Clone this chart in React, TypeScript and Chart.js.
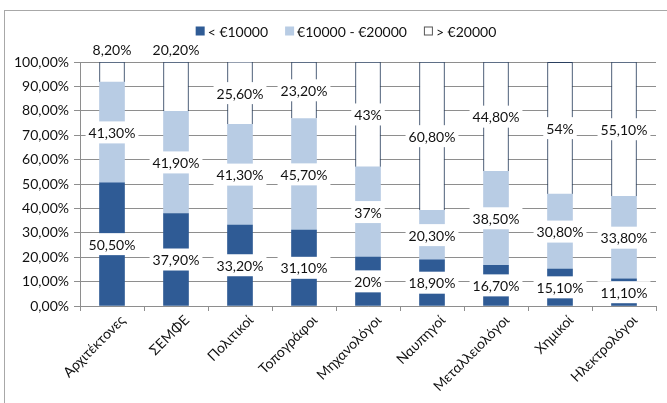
import { useEffect, useRef } from "react";
import { Chart, registerables } from "chart.js";

Chart.register(...registerables);

const categories = [
  "Αρχιτέκτονες",
  "ΣΕΜΦΕ",
  "Πολιτικοί",
  "Τοπογράφοι",
  "Μηχανολόγοι",
  "Ναυπηγοί",
  "Μεταλλειολόγοι",
  "Χημικοί",
  "Ηλεκτρολόγοι",
];
const seriesNames = ["< €10000", "€10000 - €20000", "> €20000"];
const below10k = [50.5, 37.9, 33.2, 31.1, 20, 18.9, 16.7, 15.1, 11.1];
const from10kTo20k = [41.3, 41.9, 41.3, 45.7, 37, 20.3, 38.5, 30.8, 33.8];
const above20k = [8.2, 20.2, 25.6, 23.2, 43, 60.8, 44.8, 54, 55.1];
const yTickValues = [0, 10, 20, 30, 40, 50, 60, 70, 80, 90, 100];

const FONT = "Lato, 'Open Sans', 'DejaVu Sans', sans-serif";
const TEXT = "#111111";
const GRID = "#8e8e8e";
const DARK = "#2f5b95";
const LIGHT = "#b8cce4";
const WHITE_BORDER = "#2a3f5e";

const fmtValue = (v: number) =>
  Number.isInteger(v) ? `${v}%` : `${v.toFixed(2).replace(".", ",")}%`;
const fmtTick = (v: number) => `${v.toFixed(2).replace(".", ",")}%`;

const framePlugin = {
  id: "frame",
  beforeDraw(chart: any) {
    const ctx = chart.ctx;
    ctx.save();
    ctx.fillStyle = "#ffffff";
    ctx.fillRect(0, 0, chart.width, chart.height);
    ctx.strokeStyle = "#a8a8a8";
    ctx.lineWidth = 1;
    ctx.strokeRect(4.5, 10.5, chart.width + 20, chart.height + 20);
    ctx.restore();
  },
};

const valueLabelsPlugin = {
  id: "valueLabels",
  afterDatasetsDraw(chart: any) {
    const ctx = chart.ctx;
    const area = chart.chartArea;
    const yScale = chart.scales.y;
    const last = chart.data.datasets.length - 1;
    ctx.save();
    ctx.font = `14px ${FONT}`;
    ctx.textAlign = "center";
    ctx.textBaseline = "middle";
    chart.data.datasets.forEach((ds: any, di: number) => {
      const meta = chart.getDatasetMeta(di);
      meta.data.forEach((bar: any, i: number) => {
        const v = ds.data[i] as number;
        const p = bar.getProps(["x", "y", "base"], true);
        const top = Math.max(Math.min(p.y, p.base), area.top);
        const bottom = Math.max(p.y, p.base);
        let cy = (top + bottom) / 2;
        if (di === last && v < 21) cy = yScale.getPixelForValue(100) - 13;
        const text = fmtValue(v);
        const w = ctx.measureText(text).width + 6;
        ctx.fillStyle = "#ffffff";
        ctx.fillRect(p.x - w / 2, cy - 11, w, 22);
        ctx.fillStyle = TEXT;
        ctx.fillText(text, p.x, cy + 1);
      });
    });
    ctx.restore();
  },
};

const legendPlugin = {
  id: "customLegend",
  afterDraw(chart: any) {
    const ctx = chart.ctx;
    const datasets = chart.data.datasets;
    ctx.save();
    ctx.font = `14px ${FONT}`;
    ctx.textBaseline = "middle";
    ctx.textAlign = "left";
    const box = 9;
    const gapBoxText = 3;
    const gapItems = 17;
    const widths = datasets.map((d: any) => box + gapBoxText + ctx.measureText(d.label).width);
    const total = widths.reduce((a: number, b: number) => a + b, 0) + gapItems * (datasets.length - 1);
    let x = 346 - total / 2;
    const y = 31;
    datasets.forEach((d: any, i: number) => {
      ctx.fillStyle = d.backgroundColor;
      ctx.fillRect(x, y - box / 2, box, box);
      if (d.borderWidth) {
        ctx.strokeStyle = "#555";
        ctx.lineWidth = 1;
        ctx.strokeRect(x + 0.5, y - box / 2 + 0.5, box - 1, box - 1);
      }
      ctx.fillStyle = TEXT;
      ctx.fillText(d.label, x + box + gapBoxText, y + 1);
      x += widths[i] + gapItems;
    });
    ctx.restore();
  },
};

export default function App() {
  const ref = useRef<HTMLCanvasElement | null>(null);

  useEffect(() => {
    if (!ref.current) return;
    const chart = new Chart(ref.current, {
      type: "bar",
      data: {
        labels: categories,
        datasets: [
          {
            label: seriesNames[0],
            data: below10k,
            backgroundColor: DARK,
            borderWidth: 0,
          },
          {
            label: seriesNames[1],
            data: from10kTo20k,
            backgroundColor: LIGHT,
            borderWidth: 0,
          },
          {
            label: seriesNames[2],
            data: above20k,
            backgroundColor: "#ffffff",
            borderColor: WHITE_BORDER,
            borderWidth: 1,
          },
        ],
      },
      options: {
        responsive: false,
        animation: false,
        events: [],
        layout: { padding: { top: 62, right: 11, left: 0, bottom: 0 } },
        datasets: {
          bar: { barThickness: 25 },
        },
        plugins: {
          legend: { display: false },
          tooltip: { enabled: false },
          title: { display: false },
        },
        scales: {
          x: {
            stacked: true,
            grid: {
              display: true,
              drawOnChartArea: false,
              drawTicks: true,
              tickLength: 5,
              offset: true,
              color: GRID,
            },
            border: { display: true, color: GRID },
            ticks: {
              maxRotation: 45,
              minRotation: 45,
              autoSkip: false,
              labelOffset: 11,
              padding: 1,
              color: TEXT,
              font: { family: FONT, size: 14 },
            },
            afterFit: (scale: any) => {
              scale.height = 97;
            },
          },
          y: {
            stacked: true,
            min: 0,
            max: 100,
            afterBuildTicks: (scale: any) => {
              scale.ticks = yTickValues.map((v) => ({ value: v }));
            },
            grid: { color: GRID, tickLength: 6 },
            border: { display: true, color: GRID },
            ticks: {
              padding: 5,
              color: TEXT,
              font: { family: FONT, size: 14 },
              callback: (v: any) => fmtTick(Number(v)),
            },
            afterFit: (scale: any) => {
              scale.width = 80;
            },
          },
        },
      },
      plugins: [framePlugin, valueLabelsPlugin, legendPlugin],
    });
    return () => chart.destroy();
  }, []);

  return (
    <div style={{ position: "absolute", left: 0, top: 0, width: 667, height: 403 }}>
      <canvas ref={ref} width={667} height={403} />
    </div>
  );
}
